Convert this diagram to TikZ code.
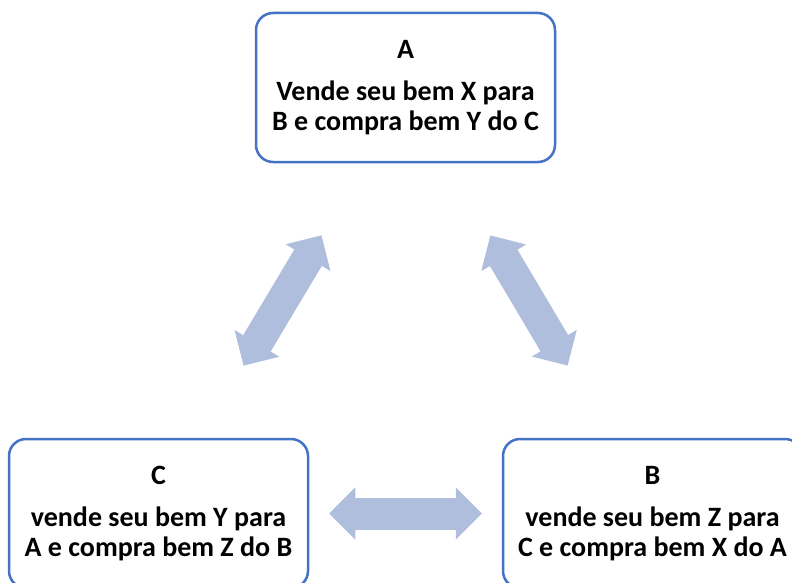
\documentclass[tikz,border=0pt]{standalone}
\usepackage{fontspec}
\setmainfont{Carlito}
\usetikzlibrary{arrows.meta}
\definecolor{boxline}{RGB}{68,114,196}
\definecolor{arrowfill}{RGB}{176,190,222}
\tikzset{
  party/.style={draw=boxline, line width=2.5pt, rounded corners=17pt, fill=white,
    minimum width=299pt, minimum height=149pt, align=center,
    font=\bfseries\fontsize{28}{30}\selectfont},
  tradearrow/.style={draw=arrowfill, line width=32pt,
    {Triangle[length=26pt,width=52pt,line width=1pt]}-{Triangle[length=26pt,width=52pt,line width=1pt]}}
}
\begin{document}
\begin{tikzpicture}[x=1pt,y=-1pt]
      \useasboundingbox (0,0) rectangle (792,583);
      \node[party] (A) at (405.5,87.5) {A\\[12pt]Vende seu bem X para\\B e compra bem Y do C};
      \node[party] (C) at (158.5,513.5) {C\\[12pt]vende seu bem Y para\\A e compra bem Z do B};
      \node[party] (B) at (652.5,513.5) {B\\[12pt]vende seu bem Z para\\C e compra bem X do A};
      \coordinate (ca) at ([xshift=42pt]C.north);
      \coordinate (ac) at ([xshift=-41pt]A.south);
      \coordinate (ab) at ([xshift=42pt]A.south);
      \coordinate (ba) at ([xshift=-42pt]B.north);
      \begin{scope}[tradearrow]
        \draw[shorten <=84pt, shorten >=84pt] (ca) to (ac);
        \draw[shorten <=84pt, shorten >=84pt] (ab) to (ba);
        \draw[shorten <=20pt, shorten >=20pt] (C.east) to (B.west);
      \end{scope}
    \end{tikzpicture}
\end{document}
